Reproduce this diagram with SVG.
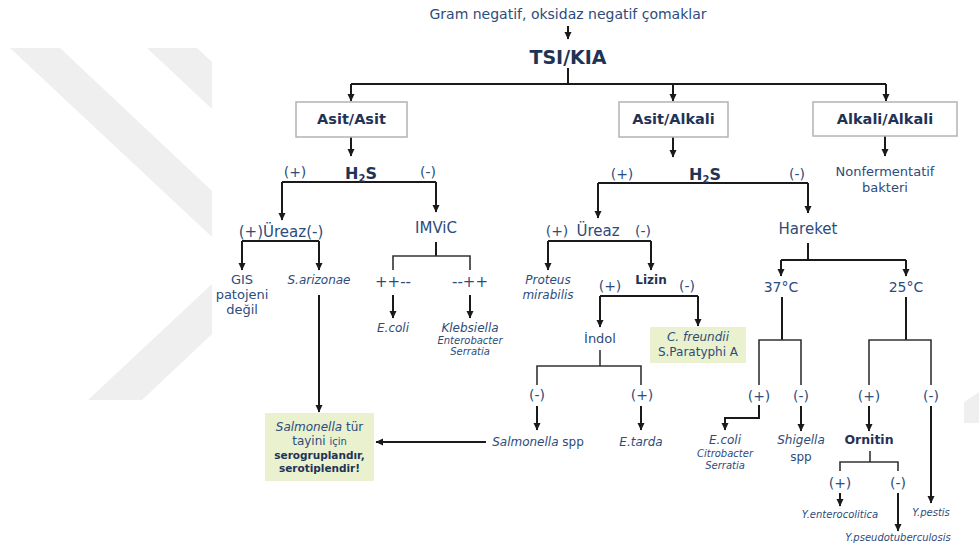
<svg xmlns="http://www.w3.org/2000/svg" width="979" height="550" viewBox="0 0 979 550">
<defs>
<marker id="ah" markerUnits="userSpaceOnUse" markerWidth="8" markerHeight="8" viewBox="0 0 8 8" refX="7" refY="4" orient="auto">
<path d="M0,0.5 L7.5,4 L0,7.5 z" fill="#1a1a1a"/>
</marker>
<style>
text{font-family:"DejaVu Sans",Verdana,sans-serif;fill:#2d4c7c;text-anchor:middle}
.b{font-weight:bold;fill:#1f3356}
.i{font-style:italic}
.s13{font-size:13px}
.s12{font-size:12px}
.s10{font-size:10px}
.s15{font-size:15px}
.pm{font-size:14px}
.box{fill:#ffffff;stroke:#b3b3b3;stroke-width:1.5}
.gbox{fill:#e9f1cf;stroke:none}
.ln{fill:none;stroke:#1a1a1a;stroke-width:2}
.ln2{fill:none;stroke:#333333;stroke-width:1.6}
.arr{marker-end:url(#ah)}
.wm{fill:#efefef}
</style>
</defs>
<rect width="979" height="550" fill="#ffffff"/>
<g id="watermark">
<polygon class="wm" points="10,48 60,48 212,191 212,237"/>
<polygon class="wm" points="147,48 197,48 212,62 212,109"/>
<polygon class="wm" points="88,400 142,400 212,334 212,284"/>
<polygon class="wm" points="964,402 979,392 979,423 964,423"/>
</g>
<g id="connectors">
<line class="ln arr" x1="568" y1="26" x2="568" y2="39"/>
<line class="ln" x1="568" y1="68" x2="568" y2="84"/>
<line class="ln" x1="351" y1="84" x2="886" y2="84"/>
<line class="ln arr" x1="351" y1="84" x2="351" y2="101"/>
<line class="ln arr" x1="673" y1="84" x2="673" y2="101"/>
<line class="ln arr" x1="886" y1="84" x2="886" y2="101"/>
<line class="ln arr" x1="351" y1="137" x2="351" y2="156"/>
<line class="ln" x1="282" y1="182" x2="436" y2="182"/>
<line class="ln arr" x1="282" y1="182" x2="282" y2="220"/>
<line class="ln arr" x1="436" y1="182" x2="436" y2="212"/>
<line class="ln" x1="242" y1="241" x2="319" y2="241"/>
<line class="ln arr" x1="242" y1="241" x2="242" y2="270"/>
<line class="ln arr" x1="319" y1="241" x2="319" y2="270"/>
<line class="ln" x1="436" y1="242" x2="436" y2="256"/>
<polyline class="ln2" points="393,270 393,256 470,256 470,270"/>
<line class="ln arr" x1="393" y1="295" x2="393" y2="318"/>
<line class="ln arr" x1="470" y1="295" x2="470" y2="318"/>
<line class="ln arr" x1="319" y1="295" x2="319" y2="412"/>
<line class="ln arr" x1="486" y1="442" x2="376" y2="442"/>
<line class="ln arr" x1="673" y1="137" x2="673" y2="157"/>
<line class="ln" x1="598" y1="183" x2="808" y2="183"/>
<line class="ln arr" x1="598" y1="183" x2="598" y2="218"/>
<line class="ln arr" x1="808" y1="183" x2="808" y2="213"/>
<line class="ln" x1="548" y1="241" x2="651" y2="241"/>
<line class="ln arr" x1="548" y1="241" x2="548" y2="270"/>
<line class="ln arr" x1="651" y1="241" x2="651" y2="270"/>
<line class="ln" x1="600" y1="296" x2="698" y2="296"/>
<line class="ln arr" x1="600" y1="296" x2="600" y2="327"/>
<line class="ln arr" x1="698" y1="296" x2="698" y2="326"/>
<line class="ln2" x1="600" y1="350" x2="600" y2="366"/>
<polyline class="ln2" points="537,385 537,366 641,366 641,385"/>
<line class="ln arr" x1="537" y1="406" x2="537" y2="430"/>
<line class="ln arr" x1="641" y1="406" x2="641" y2="430"/>
<line class="ln arr" x1="885" y1="136" x2="885" y2="156"/>
<line class="ln" x1="808" y1="243" x2="808" y2="260"/>
<line class="ln" x1="781" y1="260" x2="906" y2="260"/>
<line class="ln arr" x1="781" y1="260" x2="781" y2="276"/>
<line class="ln arr" x1="906" y1="260" x2="906" y2="276"/>
<line class="ln" x1="782" y1="297" x2="782" y2="340"/>
<polyline class="ln2" points="759,385 759,340 801,340 801,385"/>
<polyline class="ln arr" points="759,405 759,418 725,418 725,430"/>
<line class="ln arr" x1="801" y1="406" x2="801" y2="431"/>
<line class="ln" x1="906" y1="297" x2="906" y2="340"/>
<polyline class="ln2" points="869,385 869,340 931,340 931,385"/>
<line class="ln arr" x1="869" y1="406" x2="869" y2="431"/>
<line class="ln arr" x1="931" y1="406" x2="931" y2="503"/>
<line class="ln2" x1="870" y1="451" x2="870" y2="462"/>
<polyline class="ln2" points="840,471 840,462 898,462 898,471"/>
<line class="ln arr" x1="840" y1="493" x2="840" y2="506"/>
<line class="ln arr" x1="898" y1="493" x2="898" y2="531"/>
</g>
<g id="title"><text x="568" y="19" style="font-size:14px">Gram negatif, oksidaz negatif çomaklar</text></g>
<g id="tsi"><text class="b" x="568" y="64" style="font-size:19px">TSI/KIA</text></g>
<g id="asit-asit"><rect class="box" x="296" y="102" width="111" height="35"/><text class="b" x="351.5" y="124" style="font-size:14.5px">Asit/Asit</text></g>
<g id="asit-alkali"><rect class="box" x="619" y="102" width="109" height="35"/><text class="b" x="673.5" y="124" style="font-size:14.5px">Asit/Alkali</text></g>
<g id="alkali-alkali"><rect class="box" x="813" y="102" width="144" height="34"/><text class="b" x="885" y="124" style="font-size:14.5px">Alkali/Alkali</text></g>
<g id="h2s-left"><text class="pm" x="295" y="177">(+)</text><text class="b" x="361" y="179" style="font-size:16px">H<tspan style="font-size:10px" dy="3">2</tspan><tspan dy="-3">S</tspan></text><text class="pm" x="428" y="177">(-)</text></g>
<g id="ureaz-left"><text class="s15" x="281" y="237">(+)Üreaz(-)</text></g>
<g id="imvic"><text class="s15" x="436" y="233">IMViC</text></g>
<g id="gis"><text class="s13" x="242" y="284">GIS</text><text class="s13" x="242" y="299">patojeni</text><text class="s13" x="242" y="314">değil</text></g>
<g id="sarizonae"><text class="s12 i" x="319" y="284">S.arizonae</text></g>
<g id="imvic-pos"><text class="s15" x="393" y="287">++--</text></g>
<g id="imvic-neg"><text class="s15" x="470" y="287">--++</text></g>
<g id="ecoli1"><text class="s12 i" x="393" y="332">E.coli</text></g>
<g id="klebsiella"><text class="s12 i" x="470" y="332">Klebsiella</text><text class="s10 i" x="470" y="344">Enterobacter</text><text class="s10 i" x="470" y="355">Serratia</text></g>
<g id="salmonella-box"><rect class="gbox" x="265" y="413" width="109" height="68"/>
<text class="s12" x="319.5" y="431"><tspan class="i">Salmonella</tspan> tür</text>
<text class="s12" x="319.5" y="445">tayini <tspan style="font-size:10px">için</tspan></text>
<text class="b" x="319.5" y="459" style="font-size:10.5px">serogruplandır,</text>
<text class="b" x="319.5" y="472" style="font-size:10.5px">serotiplendir!</text></g>
<g id="h2s-mid"><text class="pm" x="622" y="179">(+)</text><text class="b" x="705" y="180" style="font-size:16px">H<tspan style="font-size:10px" dy="3">2</tspan><tspan dy="-3">S</tspan></text><text class="pm" x="797" y="179">(-)</text></g>
<g id="ureaz-mid"><text class="pm" x="557" y="236">(+)</text><text class="s15" x="598" y="236">Üreaz</text><text class="pm" x="643" y="236">(-)</text></g>
<g id="proteus"><text class="s12 i" x="548" y="284">Proteus</text><text class="s12 i" x="548" y="299">mirabilis</text></g>
<g id="lizin"><text class="b" x="651" y="284" style="font-size:12px">Lizin</text><text class="pm" x="610" y="291">(+)</text><text class="pm" x="687" y="291">(-)</text></g>
<g id="indol"><text class="s13" x="600" y="343">İndol</text></g>
<g id="cfreundii"><rect class="gbox" x="650" y="327" width="96" height="36"/><text class="s12 i" x="698" y="341">C. freundii</text><text class="s12" x="698" y="356">S.Paratyphi A</text></g>
<g id="indol-neg"><text class="pm" x="537" y="400">(-)</text></g>
<g id="indol-pos"><text class="pm" x="642" y="400">(+)</text></g>
<g id="salmonella-spp"><text class="s12" x="538" y="446"><tspan class="i">Salmonella</tspan> spp</text></g>
<g id="etarda"><text class="s12 i" x="641" y="446">E.tarda</text></g>
<g id="nonferm"><text class="s13" x="885" y="176">Nonfermentatif</text><text class="s13" x="885" y="192">bakteri</text></g>
<g id="hareket"><text class="s15" x="808" y="234">Hareket</text></g>
<g id="t37"><text style="font-size:14px" x="781" y="292">37°C</text></g>
<g id="t25"><text style="font-size:14px" x="906" y="292">25°C</text></g>
<g id="t37-pos"><text class="pm" x="759" y="401">(+)</text></g>
<g id="t37-neg"><text class="pm" x="801" y="401">(-)</text></g>
<g id="ecoli2"><text class="s12 i" x="725" y="444">E.coli</text><text class="s10 i" x="725" y="457">Citrobacter</text><text class="s10 i" x="725" y="469">Serratia</text></g>
<g id="shigella"><text class="s12 i" x="801" y="444">Shigella</text><text class="s12" x="801" y="461">spp</text></g>
<g id="t25-pos"><text class="pm" x="869" y="401">(+)</text></g>
<g id="t25-neg"><text class="pm" x="931" y="401">(-)</text></g>
<g id="ornitin"><text class="b" x="869" y="444" style="font-size:12.5px">Ornitin</text></g>
<g id="orn-pos"><text class="pm" x="840" y="488">(+)</text></g>
<g id="orn-neg"><text class="pm" x="898" y="488">(-)</text></g>
<g id="yentero"><text class="s10 i" x="840" y="518">Y.enterocolitica</text></g>
<g id="ypseudo"><text class="s10 i" x="898" y="541">Y.pseudotuberculosis</text></g>
<g id="ypestis"><text class="s10 i" x="931" y="516">Y.pestis</text></g>
</svg>
